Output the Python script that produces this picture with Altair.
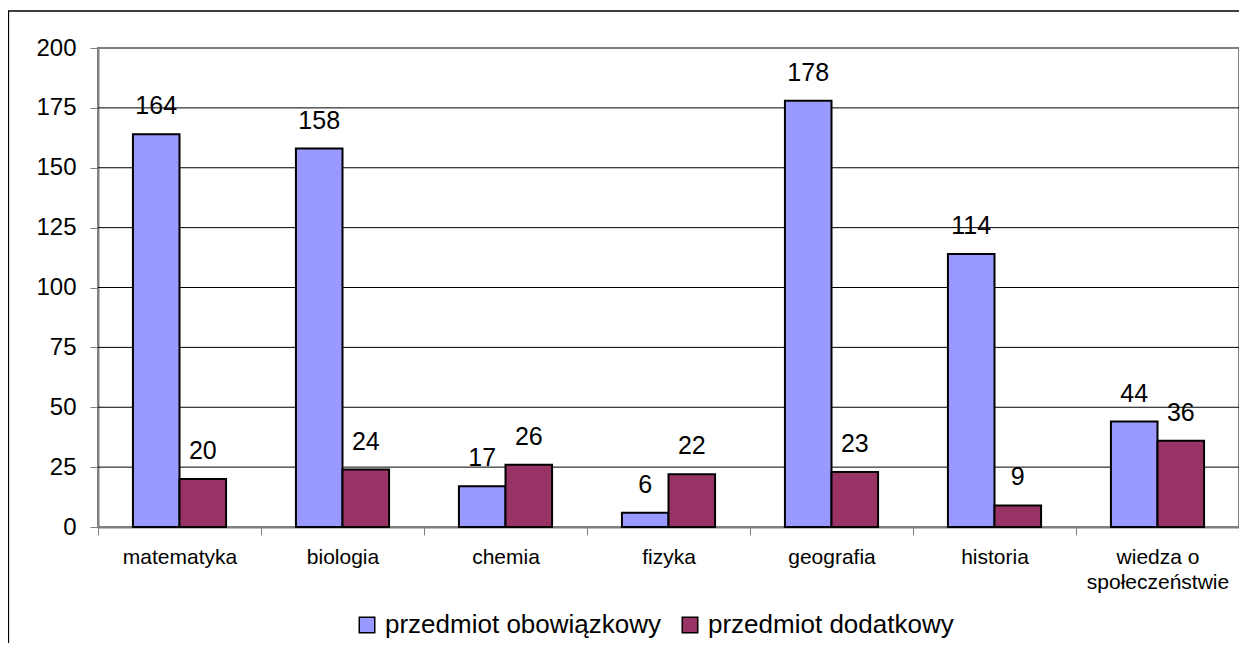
import altair as alt
import pandas as pd

categories = ["matematyka", "biologia", "chemia", "fizyka", "geografia", "historia", "wiedza o społeczeństwie"]
series = ["przedmiot obowiązkowy", "przedmiot dodatkowy"]
obowiazkowy = [164, 158, 17, 6, 178, 114, 44]
dodatkowy = [20, 24, 26, 22, 23, 9, 36]
colors = ["#9999FF", "#993366"]
y_ticks = [0, 25, 50, 75, 100, 125, 150, 175, 200]
grid_vals = [25, 50, 75, 100, 125, 150, 175]

rows = []
for c, a, b in zip(categories, obowiazkowy, dodatkowy):
    rows.append({"kategoria": c, "seria": series[0], "wartosc": a})
    rows.append({"kategoria": c, "seria": series[1], "wartosc": b})
df = pd.DataFrame(rows)

FONT = "Liberation Sans"
W, H = 1141, 479

x_enc = alt.X(
    "kategoria:N",
    sort=categories,
    scale=alt.Scale(paddingInner=0, paddingOuter=0),
    axis=alt.Axis(
        title=None, labelAngle=0, tickBand="extent", tickSize=8, tickColor="#808080",
        domainColor="#808080", domainWidth=2, labelFontSize=21, labelFont=FONT,
        labelColor="black", labelPadding=11, labelLineHeight=25,
        labelExpr="datum.label == 'wiedza o społeczeństwie' ? ['wiedza o', 'społeczeństwie'] : datum.label",
    ),
)
xo_enc = alt.XOffset("seria:N", sort=series, scale=alt.Scale(paddingOuter=0.75, paddingInner=0))
y_scale = alt.Scale(domain=[0, 200], nice=False, zero=True)
y_axis = alt.Axis(
    title=None, values=y_ticks, grid=False, tickSize=8, tickColor="#808080",
    domainColor="#808080", domainWidth=2, labelFontSize=24, labelFont=FONT,
    labelColor="black", labelPadding=14,
)

grid = alt.Chart(pd.DataFrame({"wartosc": grid_vals})).mark_rule(color="#000000", strokeWidth=1).encode(
    y=alt.Y("wartosc:Q", scale=y_scale, axis=y_axis)
)

bars = alt.Chart(df).mark_bar(stroke="black", strokeWidth=2).encode(
    x=x_enc,
    xOffset=xo_enc,
    y=alt.Y("wartosc:Q", scale=y_scale, axis=y_axis),
    color=alt.Color(
        "seria:N", sort=series, scale=alt.Scale(domain=series, range=colors),
        legend=alt.Legend(
            title=None, orient="none", direction="horizontal", legendX=256, legendY=564,
            symbolType="square", symbolSize=240, symbolStrokeColor="black", symbolStrokeWidth=1.5,
            labelFontSize=26, labelFont=FONT, labelColor="black", labelOffset=5, columnPadding=15,
            labelLimit=0,
        ),
    ),
)

labels = alt.Chart(df).mark_text(
    baseline="alphabetic", dy=-20, fontSize=25, font=FONT, color="black"
).encode(
    x=alt.X("kategoria:N", sort=categories),
    xOffset=xo_enc,
    y=alt.Y("wartosc:Q", scale=y_scale, axis=y_axis),
    text="wartosc:Q",
)

frame = alt.Chart(pd.DataFrame({"f": [1]})).mark_rect(
    fill=None, stroke="black", strokeWidth=1.3
).encode(
    x=alt.value(-89.5), x2=alt.value(W + 200), y=alt.value(-37), y2=alt.value(H + 300)
)

chart = alt.layer(grid, bars, labels, frame).properties(
    width=W, height=H,
    autosize=alt.AutoSizeParams(type="none"),
    padding={"left": 90, "top": 40, "right": 0, "bottom": 116},
    background="white",
).configure_view(stroke="#808080", strokeWidth=2)

chart.save("out.html", embed_options={"renderer": "svg", "actions": False})
